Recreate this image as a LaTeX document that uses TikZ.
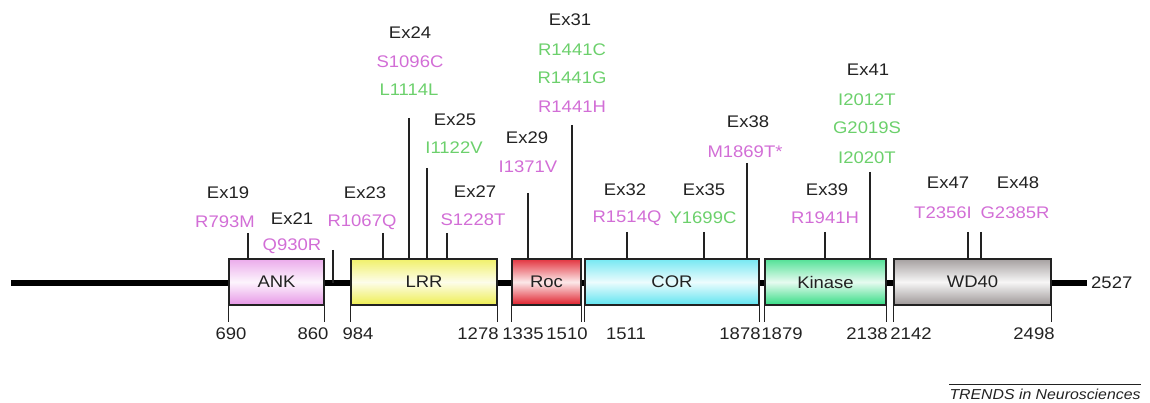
\documentclass[tikz,border=0pt]{standalone}
\usepackage{fontspec}
\setmainfont[FakeStretch=1.1]{Liberation Sans}
\definecolor{magc}{HTML}{D26ED6}
\definecolor{grnc}{HTML}{6CD06C}
\definecolor{inkc}{HTML}{222222}
\definecolor{ankc}{HTML}{E696E6}
\definecolor{lrrc}{HTML}{EEEE50}
\definecolor{rocc}{HTML}{E01E2A}
\definecolor{corc}{HTML}{5EE4F0}
\definecolor{kinc}{HTML}{34DC84}
\definecolor{wdc}{HTML}{9C9696}
\newcommand{\lf}{\fontsize{16.8}{18}\selectfont}
\begin{document}
\begin{tikzpicture}[x=1pt,y=-1pt,
  dom/.style={draw=inkc, line width=1.2pt, inner sep=0pt, minimum height=46pt, font=\lf, text=inkc},
  lbl/.style={inner sep=0pt, font=\lf},
  exl/.style={lbl, text=inkc},
  mag/.style={lbl, text=magc},
  grn/.style={lbl, text=grnc},
  stem/.style={line width=1.3pt, draw=inkc},
  numl/.style={lbl, text=inkc},
  backbone/.style={line width=6pt, draw=black}]
\useasboundingbox (0,0) rectangle (1150,403);

% backbone
\coordinate (ls) at (11,283);
\coordinate (le) at (1087,283);
\draw[backbone] (ls) -- (le);
\node[lbl, anchor=west, text=inkc] (end) at (1091,283) {2527};

% domains
\node[dom, minimum width=95pt, top color=ankc!80, bottom color=ankc, middle color=ankc!10] (ank) at (276.5,282) {ANK};
\node[dom, minimum width=146pt, top color=lrrc!85, bottom color=lrrc, middle color=lrrc!12] (lrr) at (424,282) {LRR};
\node[dom, minimum width=69pt, top color=rocc!90, bottom color=rocc, middle color=rocc!10] (roc) at (546.5,282) {Roc};
\node[dom, minimum width=174pt, top color=corc!85, bottom color=corc, middle color=corc!12] (cor) at (672,282) {COR};
\node[dom, minimum width=121pt, top color=kinc!85, bottom color=kinc, middle color=kinc!12] (kin) at (825.5,282) {Kinase};
\node[dom, minimum width=157pt, top color=wdc!90, bottom color=wdc, middle color=wdc!8] (wd) at (972.5,282) {WD40};

% ticks and residue numbers
\foreach \a/\nm/\x/\t in {ank.south west/n690/231/690, ank.south east/n860/313/860,
  lrr.south west/n984/358/984, lrr.south east/n1278/478/1278,
  roc.south west/n1335/523/1335, roc.south east/n1510/567/1510,
  cor.south west/n1511/626/1511, cor.south east/n1878/740/1878,
  kin.south west/n1879/782/1879, kin.south east/n2138/867/2138,
  wd.south west/n2142/911/2142, wd.south east/n2498/1034/2498}{
  \draw[stem] (\a) -- ++(0,16);
  \node[numl] (\nm) at (\x,334) {\t};
}

% stems
\coordinate (t19) at (248,233);
\coordinate (t21) at (333,250);
\coordinate (t23) at (383,233);
\coordinate (t24) at (409,118);
\coordinate (t25) at (427,168);
\coordinate (t27) at (447,233);
\coordinate (t29) at (528,193);
\coordinate (t31) at (572,125);
\coordinate (t32) at (627,232);
\coordinate (t35) at (704,232);
\coordinate (t38) at (747,163);
\coordinate (t39) at (825,232);
\coordinate (t41) at (870,172);
\coordinate (t47) at (968,232);
\coordinate (t48) at (981,232);
\draw[stem] (t19) -- (t19 |- ank.north);
\draw[stem] (t21) -- (t21 |- ls);
\draw[stem] (t23) -- (t23 |- lrr.north);
\draw[stem] (t24) -- (t24 |- lrr.north);
\draw[stem] (t25) -- (t25 |- lrr.north);
\draw[stem] (t27) -- (t27 |- lrr.north);
\draw[stem] (t29) -- (t29 |- roc.north);
\draw[stem] (t31) -- (t31 |- roc.north);
\draw[stem] (t32) -- (t32 |- cor.north);
\draw[stem] (t35) -- (t35 |- cor.north);
\draw[stem] (t38) -- (t38 |- cor.north);
\draw[stem] (t39) -- (t39 |- kin.north);
\draw[stem] (t41) -- (t41 |- kin.north);
\draw[stem] (t47) -- (t47 |- wd.north);
\draw[stem] (t48) -- (t48 |- wd.north);

% exon and mutation labels
\node[exl] (e19) at (228,193) {Ex19};
\node[mag] (m793) at (225,222) {R793M};
\node[exl] (e21) at (292,219) {Ex21};
\node[mag] (m930) at (292,246) {Q930R};
\node[exl] (e23) at (365,193) {Ex23};
\node[mag] (m1067) at (362,222) {R1067Q};
\node[exl] (e24) at (410,33) {Ex24};
\node[mag] (m1096) at (410,62) {S1096C};
\node[grn] (m1114) at (409,90) {L1114L};
\node[exl] (e25) at (455,120) {Ex25};
\node[grn] (m1122) at (454,148) {I1122V};
\node[exl] (e27) at (475,192) {Ex27};
\node[mag] (m1228) at (473,220) {S1228T};
\node[exl] (e29) at (527,138) {Ex29};
\node[mag] (m1371) at (528,167) {I1371V};
\node[exl] (e31) at (570,20) {Ex31};
\node[grn] (m1441c) at (572,50) {R1441C};
\node[grn] (m1441g) at (572,78) {R1441G};
\node[mag] (m1441h) at (572,107) {R1441H};
\node[exl] (e32) at (625,190) {Ex32};
\node[mag] (m1514) at (627,218) {R1514Q};
\node[exl] (e35) at (704,190) {Ex35};
\node[grn] (m1699) at (703,218) {Y1699C};
\node[exl] (e38) at (748,122) {Ex38};
\node[mag] (m1869) at (745,152) {M1869T*};
\node[exl] (e39) at (827,190) {Ex39};
\node[mag] (m1941) at (825,218) {R1941H};
\node[exl] (e41) at (868,70) {Ex41};
\node[grn] (m2012) at (867,100) {I2012T};
\node[grn] (m2019) at (867,128) {G2019S};
\node[grn] (m2020) at (867,158) {I2020T};
\node[exl] (e47) at (948,183) {Ex47};
\node[mag] (m2356) at (943,213) {T2356I};
\node[exl] (e48) at (1018,183) {Ex48};
\node[mag] (m2385) at (1015,213) {G2385R};

% journal credit
\node[inner sep=0pt, text=inkc, font=\itshape\fontsize{14.4}{14}\selectfont] (trends) at (1045,394) {TRENDS in Neurosciences};
\draw[line width=0.8pt, inkc] ([yshift=4pt]trends.north west) -- ([yshift=4pt]trends.north east);
\end{tikzpicture}
\end{document}
